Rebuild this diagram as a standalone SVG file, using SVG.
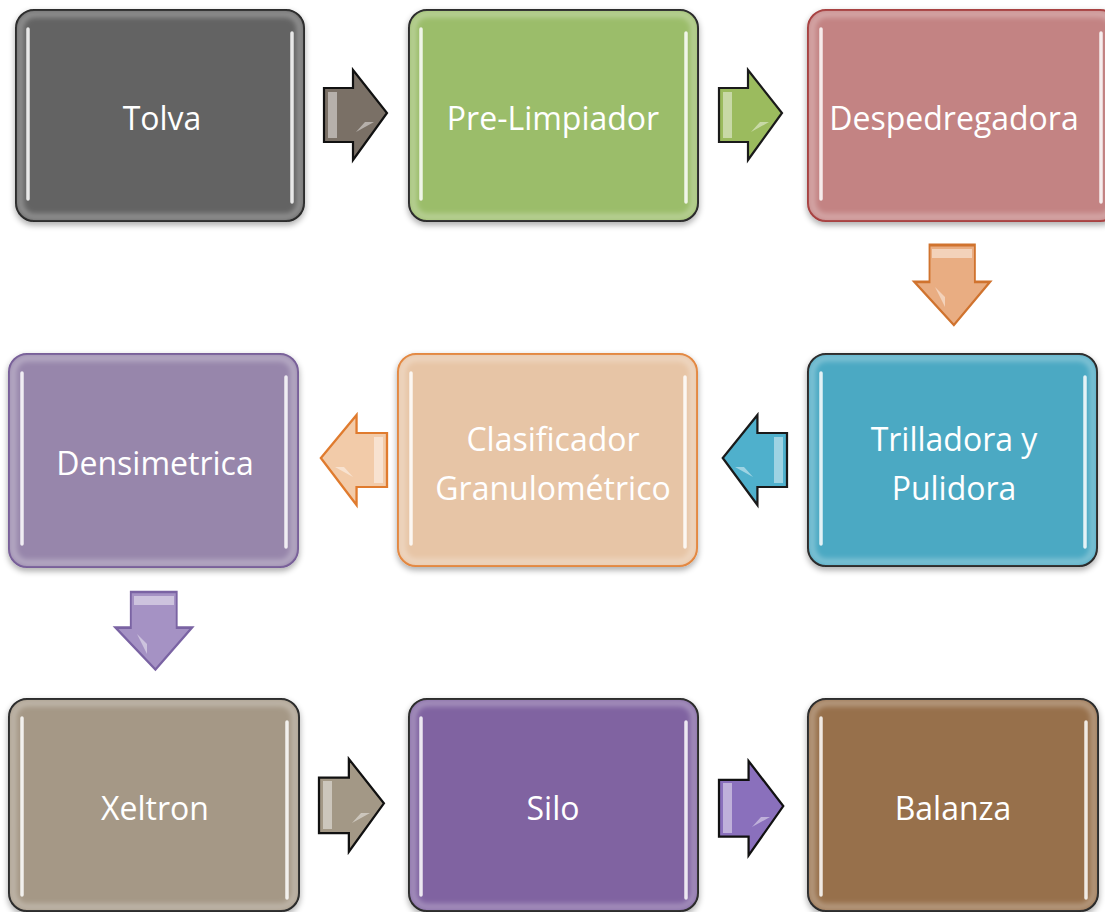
<svg xmlns="http://www.w3.org/2000/svg" width="1105" height="912" viewBox="0 0 1105 912">
<defs>
<filter id="sh" x="-10%" y="-10%" width="120%" height="125%">
<feGaussianBlur in="SourceAlpha" stdDeviation="3"/>
<feOffset dx="0" dy="3"/>
<feComponentTransfer><feFuncA type="linear" slope="0.35"/></feComponentTransfer>
<feMerge><feMergeNode/><feMergeNode in="SourceGraphic"/></feMerge>
</filter>
<filter id="soft" x="-10%" y="-10%" width="120%" height="120%">
<feGaussianBlur stdDeviation="2.5"/>
</filter>
<path id="arR" d="M0,18 H29 V0 L63,43 L29,90 V72 H0 Z"/>
</defs>
<style>
.box{stroke-width:2}
.inner{fill:none;stroke:#fff;stroke-opacity:0.28;stroke-width:7}
.hl{stroke:#fff;stroke-width:3.5;stroke-linecap:round;stroke-opacity:0.85}
.t{font-family:"Open Sans","Liberation Sans",sans-serif;font-size:32px;fill:#fff;text-anchor:middle}
.ar{stroke-width:2.2;stroke-linejoin:miter}
.bev{fill:#fff;fill-opacity:0.45}
</style>

<g id="connectors">
<g id="a1" transform="translate(324,70)">
<use href="#arR" fill="#7a7066" stroke="#111" class="ar"/>
<path d="M4,22 H13 V68 H4 Z" class="bev" fill-opacity="0.35"/>
<path d="M32,62 L41,52 L50,52 Z" class="bev"/>
</g>
<g id="a2" transform="translate(719,70)">
<use href="#arR" fill="#9bbb5e" stroke="#1a1a1a" class="ar"/>
<path d="M4,22 H13 V68 H4 Z" class="bev" fill-opacity="0.4"/>
<path d="M32,62 L41,52 L50,52 Z" class="bev"/>
</g>
<g id="a3" transform="translate(990,245) rotate(90)">
<use href="#arR" fill="#e9ad82" stroke="#d0732e" class="ar" transform="scale(1.27,0.84)"/>
<path d="M4,18 H13 V58 H4 Z" class="bev" fill-opacity="0.6"/>
<path d="M42,55 L52,45 L62,45 Z" class="bev"/>
</g>
<g id="a4" transform="translate(787,415) scale(-1,1)">
<use href="#arR" fill="#4fb0cc" stroke="#1a1a1a" class="ar" transform="scale(1.02,1)"/>
<path d="M4,22 H13 V68 H4 Z" class="bev" fill-opacity="0.5"/>
<path d="M34,62 L43,52 L52,52 Z" class="bev"/>
</g>
<g id="a5" transform="translate(387,415) scale(-1,1)">
<use href="#arR" fill="#f2cba9" stroke="#e07b2e" class="ar" transform="scale(1.05,1)"/>
<path d="M4,22 H13 V68 H4 Z" class="bev" fill-opacity="0.6"/>
<path d="M34,62 L43,52 L52,52 Z" class="bev"/>
</g>
<g id="a6" transform="translate(192,592) rotate(90)">
<use href="#arR" fill="#a592c4" stroke="#7a63a3" class="ar" transform="scale(1.23,0.85)"/>
<path d="M4,18 H13 V58 H4 Z" class="bev" fill-opacity="0.6"/>
<path d="M42,55 L52,45 L62,45 Z" class="bev"/>
</g>
<g id="a7" transform="translate(319,759)">
<use href="#arR" fill="#a39886" stroke="#111" class="ar" transform="scale(1.03,1.03)"/>
<path d="M4,22 H13 V70 H4 Z" class="bev" fill-opacity="0.4"/>
<path d="M33,64 L42,54 L51,54 Z" class="bev"/>
</g>
<g id="a8" transform="translate(719,761)">
<use href="#arR" fill="#8a70bc" stroke="#111" class="ar" transform="scale(1.02,1.05)"/>
<path d="M4,22 H13 V72 H4 Z" class="bev" fill-opacity="0.5"/>
<path d="M33,66 L42,56 L51,56 Z" class="bev"/>
</g>
</g>

<g id="n1">
<rect x="16" y="10" width="288" height="211" rx="18" fill="#636363" stroke="#141414" class="box" filter="url(#sh)"/>
<rect x="20" y="14" width="280" height="203" rx="15" class="inner" filter="url(#soft)"/>
<line x1="28" y1="29" x2="28" y2="199" class="hl"/>
<line x1="292" y1="33" x2="292" y2="202" class="hl"/>
<text x="162" y="130" class="t">Tolva</text>
</g>
<g id="n2">
<rect x="409" y="10" width="289" height="211" rx="18" fill="#9bbd6a" stroke="#141414" class="box" filter="url(#sh)"/>
<rect x="413" y="14" width="281" height="203" rx="15" class="inner" filter="url(#soft)"/>
<line x1="421" y1="29" x2="421" y2="199" class="hl"/>
<line x1="686" y1="33" x2="686" y2="202" class="hl"/>
<text x="553" y="130" class="t">Pre-Limpiador</text>
</g>
<g id="n3">
<rect x="808" y="10" width="310" height="211" rx="18" fill="#c38383" stroke="#9e2f2f" class="box" filter="url(#sh)"/>
<rect x="812" y="14" width="302" height="203" rx="15" class="inner" filter="url(#soft)"/>
<line x1="821" y1="29" x2="821" y2="199" class="hl"/>
<line x1="1101" y1="33" x2="1101" y2="202" class="hl"/>
<text x="954" y="130" class="t">Despedregadora</text>
</g>
<g id="n4">
<rect x="808" y="354" width="289" height="212" rx="18" fill="#4ba9c3" stroke="#141414" class="box" filter="url(#sh)"/>
<rect x="812" y="358" width="281" height="204" rx="15" class="inner" filter="url(#soft)"/>
<line x1="821" y1="373" x2="821" y2="544" class="hl"/>
<line x1="1085" y1="377" x2="1085" y2="547" class="hl"/>
<text x="954" y="451" class="t">Trilladora y</text>
<text x="954" y="500" class="t">Pulidora</text>
</g>
<g id="n5">
<rect x="398" y="354" width="299" height="212" rx="18" fill="#e7c5a6" stroke="#e07b2e" class="box" filter="url(#sh)"/>
<rect x="402" y="358" width="291" height="204" rx="15" class="inner" filter="url(#soft)"/>
<line x1="411" y1="373" x2="411" y2="544" class="hl"/>
<line x1="685" y1="377" x2="685" y2="547" class="hl"/>
<text x="553" y="451" class="t">Clasificador</text>
<text x="553" y="500" class="t">Granulométrico</text>
</g>
<g id="n6">
<rect x="9" y="354" width="289" height="213" rx="18" fill="#9786ab" stroke="#6b4f8e" class="box" filter="url(#sh)"/>
<rect x="13" y="358" width="281" height="205" rx="15" class="inner" filter="url(#soft)"/>
<line x1="22" y1="373" x2="22" y2="544" class="hl"/>
<line x1="286" y1="377" x2="286" y2="547" class="hl"/>
<text x="155" y="475" class="t">Densimetrica</text>
</g>
<g id="n7">
<rect x="9" y="699" width="290" height="212" rx="18" fill="#a59886" stroke="#141414" class="box" filter="url(#sh)"/>
<rect x="13" y="703" width="282" height="204" rx="15" class="inner" filter="url(#soft)"/>
<line x1="22" y1="718" x2="22" y2="895" class="hl"/>
<line x1="287" y1="722" x2="287" y2="898" class="hl"/>
<text x="155" y="820" class="t">Xeltron</text>
</g>
<g id="n8">
<rect x="409" y="699" width="289" height="212" rx="18" fill="#8063a1" stroke="#141414" class="box" filter="url(#sh)"/>
<rect x="413" y="703" width="281" height="204" rx="15" class="inner" filter="url(#soft)"/>
<line x1="421" y1="718" x2="421" y2="895" class="hl"/>
<line x1="686" y1="722" x2="686" y2="898" class="hl"/>
<text x="553" y="820" class="t">Silo</text>
</g>
<g id="n9">
<rect x="808" y="699" width="290" height="212" rx="18" fill="#976f4b" stroke="#141414" class="box" filter="url(#sh)"/>
<rect x="812" y="703" width="282" height="204" rx="15" class="inner" filter="url(#soft)"/>
<line x1="821" y1="718" x2="821" y2="895" class="hl"/>
<line x1="1086" y1="722" x2="1086" y2="898" class="hl"/>
<text x="953" y="820" class="t">Balanza</text>
</g>
</svg>
